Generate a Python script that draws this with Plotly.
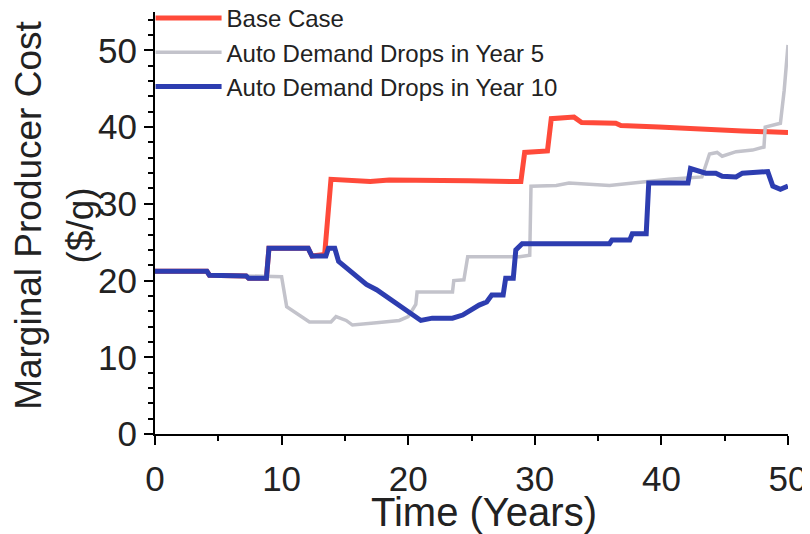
import plotly.graph_objects as go

# Marginal producer cost ($/g) vs time (years)
base_x = [0, 4.1, 4.3, 7.2, 7.4, 8.8, 9.0, 12.1, 12.4, 13.4, 13.9, 15.0, 17.0, 18.5,
          20.0, 22.0, 24.8, 28.9, 29.2, 31.0, 31.3, 33.1, 33.7, 36.4, 36.8, 39.8,
          43.0, 46.4, 50.0]
base_y = [21.2, 21.2, 20.7, 20.6, 20.3, 20.3, 24.2, 24.2, 23.2, 23.4, 33.2, 33.1,
          32.9, 33.1, 33.1, 33.0, 33.0, 32.9, 36.7, 36.9, 41.1, 41.3, 40.6, 40.5,
          40.2, 40.0, 39.7, 39.5, 39.3]

yr5_x = [0, 4.1, 4.3, 7.2, 7.4, 10.0, 10.4, 11.2, 12.2, 13.9, 14.3, 15.1, 15.6, 17.5,
         19.3, 20.0, 20.6, 20.7, 22.0, 23.5, 23.6, 24.4, 24.7, 26.0, 28.8, 29.6,
         29.7, 31.7, 32.7, 35.9, 38.5, 40.6, 43.2, 43.8, 44.4, 44.8, 45.9, 47.2,
         48.1, 48.2, 49.4, 49.7, 50.0]
yr5_y = [21.2, 21.2, 20.7, 20.6, 20.5, 20.5, 16.6, 15.7, 14.6, 14.6, 15.3, 14.8,
         14.2, 14.5, 14.8, 15.3, 16.9, 18.5, 18.5, 18.5, 20.0, 20.1, 23.1, 23.1,
         23.1, 23.3, 32.3, 32.4, 32.7, 32.4, 32.9, 33.2, 33.5, 36.5, 36.7, 36.2,
         36.8, 37.0, 37.4, 40.0, 40.5, 44.8, 50.7]

yr10_x = [0, 4.1, 4.3, 7.2, 7.4, 8.8, 9.0, 12.1, 12.4, 13.5, 13.7, 14.2, 14.5, 16.7,
          17.5, 21.0, 21.9, 23.5, 24.3, 25.6, 26.2, 26.6, 27.5, 27.7, 28.3, 28.5,
          29.0, 35.9, 36.1, 37.5, 37.7, 38.8, 39.0, 42.1, 42.3, 42.9, 43.5, 44.3,
          44.8, 45.9, 46.4, 48.4, 48.8, 49.4, 50.0]
yr10_y = [21.2, 21.2, 20.7, 20.6, 20.3, 20.3, 24.2, 24.2, 23.2, 23.2, 24.2, 24.2,
          22.5, 19.5, 18.8, 14.8, 15.1, 15.1, 15.5, 16.8, 17.2, 18.1, 18.1, 20.3,
          20.3, 24.0, 24.8, 24.8, 25.3, 25.3, 26.1, 26.1, 32.7, 32.7, 34.6, 34.3,
          34.0, 34.0, 33.6, 33.5, 34.0, 34.2, 32.3, 31.9, 32.3]

txt = "Liberation Sans, Arial, sans-serif"

fig = go.Figure()
fig.add_trace(go.Scatter(x=base_x, y=base_y, mode="lines", name="Base Case",
                         line=dict(color="#ff4a3a", width=5)))
fig.add_trace(go.Scatter(x=yr5_x, y=yr5_y, mode="lines", name="Auto Demand Drops in Year 5",
                         line=dict(color="#c3c3cb", width=3.5)))
fig.add_trace(go.Scatter(x=yr10_x, y=yr10_y, mode="lines", name="Auto Demand Drops in Year 10",
                         line=dict(color="#2d3db0", width=5)))

axis_common = dict(showline=True, linecolor="black", linewidth=2, showgrid=False,
                   zeroline=False, ticks="outside", ticklen=9, tickwidth=2,
                   tickcolor="black", automargin=False,
                   tickfont=dict(family=txt, size=35, color="#222"))

fig.update_xaxes(range=[0, 50], dtick=10, tick0=0, ticklabelstandoff=4,
                 minor=dict(dtick=5, ticks="outside", ticklen=5, tickwidth=2, tickcolor="black"),
                 **axis_common)
fig.update_yaxes(range=[0, 55], dtick=10, tick0=0,
                 minor=dict(dtick=2, ticks="outside", ticklen=5, tickwidth=2, tickcolor="black"),
                 **axis_common)

# axis titles as annotations so they sit where the reference has them
fig.add_annotation(text="Marginal Producer Cost", xref="paper", yref="paper",
                   x=-0.199, y=0.517, xanchor="center", yanchor="middle",
                   textangle=-90, showarrow=False,
                   font=dict(family=txt, size=37, color="#222"))
fig.add_annotation(text="($/g)", xref="paper", yref="paper",
                   x=-0.118, y=0.495, xanchor="center", yanchor="middle",
                   textangle=-90, showarrow=False,
                   font=dict(family=txt, size=37, color="#222"))
fig.add_annotation(text="Time (Years)", xref="paper", yref="paper",
                   x=0.52, y=-0.186, xanchor="center", yanchor="middle",
                   showarrow=False,
                   font=dict(family=txt, size=40, color="#222"))

# page body has an 8px default margin, so the figure is a little smaller
fig.update_layout(
    width=802, height=526,
    margin=dict(l=147, r=22, t=4, b=100, autoexpand=False),
    plot_bgcolor="white", paper_bgcolor="white",
    showlegend=True,
    legend=dict(x=-0.007, y=1.038, xanchor="left", yanchor="top",
                font=dict(family=txt, size=24, color="#222"),
                bgcolor="rgba(0,0,0,0)", itemwidth=66, tracegroupgap=0),
)

fig.write_html("out.html")
